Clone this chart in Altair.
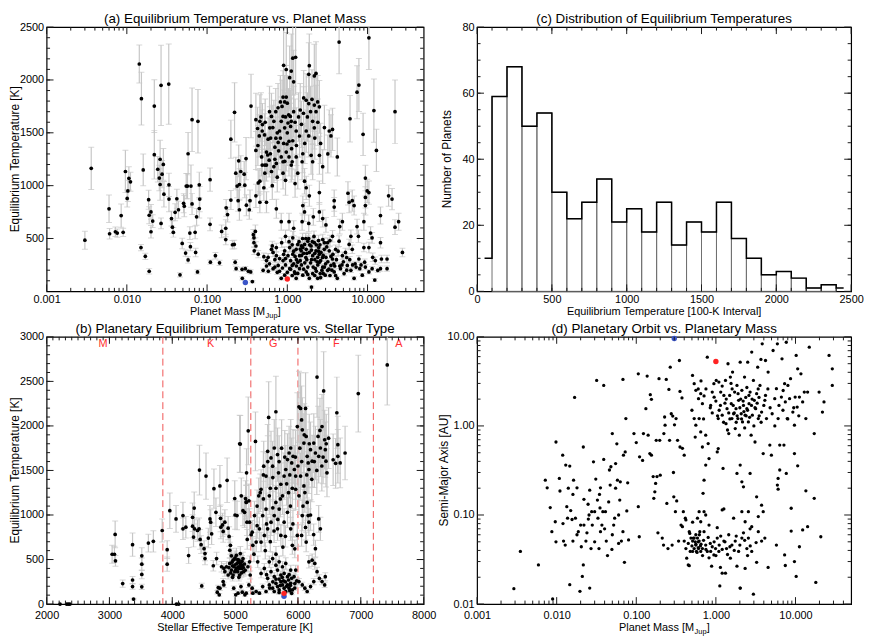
import altair as alt
import pandas as pd

FONT = "Liberation Sans"
EB = "#c6c6c6"
TICK = "#1a1a1a"
WL, WR = 381, 378
HT, HB = 267, 270

# ---------------- panel (a): (planet mass [M_Jup], Teq [K], error [K]) ----------------
A_LOWMASS = [
    (0.0030, 484, 85), (0.0036, 1164, 200), (0.0060, 781, 130), (0.0061, 545, 50), (0.0072, 564, 45),
    (0.0076, 551, 40), (0.0085, 717, 110), (0.0090, 558, 40), (0.0096, 1134, 200), (0.0101, 879, 80),
    (0.0103, 950, 100), (0.0106, 1069, 110), (0.0111, 1036, 90), (0.0143, 2151, 180), (0.0152, 1823, 250),
    (0.015, 414, 30), (0.016, 1149, 150), (0.017, 331, 30), (0.0187, 867, 90), (0.019, 720, 80),
    (0.020, 751, 70), (0.020, 564, 60), (0.019, 190, 25), (0.021, 665, 60), (0.022, 1753, 250),
    (0.022, 1293, 230), (0.0243, 1155, 120), (0.0254, 1072, 120), (0.026, 1011, 150), (0.026, 1250, 180),
    (0.0267, 1949, 380), (0.0267, 643, 50), (0.0275, 1109, 130), (0.0285, 1201, 150), (0.029, 919, 120),
    (0.0333, 1961, 380), (0.0335, 1008, 110), (0.0335, 873, 120), (0.036, 689, 70), (0.037, 607, 60),
    (0.038, 558, 45), (0.040, 748, 80), (0.042, 876, 90), (0.044, 772, 80), (0.046, 156, 20),
    (0.049, 453, 50), (0.051, 833, 90), (0.052, 806, 100), (0.054, 362, 30), (0.055, 996, 120),
    (0.057, 996, 120), (0.058, 1302, 200), (0.058, 297, 30), (0.061, 551, 60), (0.062, 423, 40),
    (0.063, 996, 200), (0.065, 827, 100), (0.065, 1624, 300), (0.071, 558, 60), (0.072, 368, 40),
    (0.074, 705, 80), (0.076, 184, 20), (0.077, 1609, 300), (0.080, 784, 90), (0.080, 1008, 120),
    (0.081, 873, 120),
]
A_SUBJOV = [
    (0.109, 1057, 110), (0.109, 634, 60), (0.11, 276, 20), (0.127, 337, 30), (0.143, 270, 25),
    (0.152, 567, 60), (0.171, 597, 80), (0.173, 790, 80), (0.18, 726, 70), (0.171, 490, 50),
    (0.198, 1440, 180), (0.198, 864, 90), (0.207, 441, 40), (0.218, 444, 40), (0.22, 1694, 280),
    (0.224, 276, 25), (0.23, 214, 20), (0.228, 1118, 150), (0.237, 996, 110), (0.244, 858, 100),
    (0.248, 1235, 150), (0.253, 1011, 150), (0.253, 772, 100), (0.263, 1134, 150), (0.273, 208, 20),
    (0.275, 123, 15), (0.29, 1109, 120), (0.295, 1005, 120), (0.30, 214, 20), (0.306, 1256, 200),
    (0.309, 815, 100), (0.327, 190, 20), (0.336, 772, 90), (0.353, 1753, 300), (0.35, 184, 20),
    (0.367, 92, 10), (0.343, 858, 100), (0.40, 567, 60), (0.384, 506, 50), (0.406, 429, 40),
    (0.377, 536, 50), (0.384, 460, 40), (0.387, 383, 35),
]
A_HOT = [
    (0.406, 1624, 250), (0.455, 1609, 250), (0.426, 1541, 200), (0.49, 1578, 200), (0.487, 1517, 200),
    (0.447, 1471, 200), (0.406, 1333, 180), (0.478, 1272, 180), (0.525, 1195, 150), (0.55, 1318, 180),
    (0.577, 1440, 200), (0.605, 1547, 200), (0.635, 1655, 220), (0.68, 1609, 200), (0.718, 1700, 220),
    (0.767, 1737, 230), (0.82, 1792, 250), (0.885, 1838, 250), (0.927, 1792, 250), (0.97, 1838, 300),
    (0.90, 2139, 350), (0.97, 2099, 350), (1.07, 2022, 300), (1.12, 2084, 350), (1.2, 1982, 300),
    (1.17, 2206, 350), (1.27, 2215, 350), (1.04, 1670, 250), (1.09, 1655, 250), (1.12, 1609, 220),
    (1.02, 1593, 220), (0.885, 1655, 250), (0.84, 1609, 230), (0.927, 1547, 200), (0.80, 1517, 200),
    (0.72, 1449, 200), (0.77, 1409, 200), (0.70, 1364, 180), (0.616, 1302, 180), (0.594, 1241, 160),
    (0.55, 1195, 150), (0.525, 1118, 150), (0.487, 1195, 150), (0.635, 1134, 150), (0.68, 1180, 150),
    (0.73, 1210, 160), (0.84, 1272, 170), (0.885, 1226, 170), (0.885, 1118, 150), (0.97, 1318, 180),
    (1.05, 1272, 180), (1.15, 1226, 170), (1.12, 1195, 160), (0.99, 1394, 200), (1.17, 1425, 200),
    (1.29, 1517, 220), (1.45, 1716, 250), (1.59, 1685, 250), (1.72, 1808, 250), (1.85, 1777, 250),
    (2.03, 1817, 280), (2.17, 1762, 250), (2.39, 1792, 250), (2.51, 1746, 250), (2.28, 1700, 250),
    (2.07, 1609, 220), (2.17, 1547, 200), (1.85, 2053, 300), (2.28, 2062, 300), (2.17, 2038, 300),
    (1.88, 2135, 300), (1.72, 1517, 200), (1.85, 1471, 200), (1.56, 1302, 180), (1.29, 1272, 180),
    (1.35, 1118, 150), (1.53, 1226, 170), (1.98, 1287, 180), (2.07, 1226, 170), (2.51, 1287, 180),
    (2.76, 1180, 160), (3.33, 1517, 200), (3.66, 1532, 200), (3.5, 1471, 200), (4.42, 2359, 300),
    (7.8, 1952, 250), (7.4, 1884, 250), (10.4, 2399, 300), (8.8, 1486, 200), (6.05, 1633, 220),
    (4.2, 1272, 180), (12.0, 1710, 300), (12.9, 1333, 200), (22.0, 1700, 300),
]
A_HOT_CORE = [
    (0.43, 1380, 190), (0.47, 1650, 230), (0.52, 1480, 200), (0.53, 1600, 220), (0.57, 1290, 180),
    (0.6, 1700, 240), (0.62, 1450, 200), (0.66, 1550, 210), (0.7, 1250, 170), (0.75, 1500, 210),
    (0.78, 1330, 180), (0.82, 1450, 200), (0.86, 1750, 250), (0.9, 1400, 190), (0.93, 1230, 170),
    (0.95, 1650, 230), (1.0, 1500, 210), (1.0, 1780, 260), (1.05, 1420, 200), (1.1, 1560, 220),
    (1.13, 1350, 190), (1.2, 1700, 240), (1.25, 1600, 220), (1.3, 1380, 190), (1.38, 1650, 230),
    (1.42, 1470, 200), (1.5, 1580, 220), (1.6, 1830, 260), (1.65, 1400, 190), (1.78, 1650, 230),
    (1.95, 1700, 240), (2.2, 1450, 200), (2.4, 1600, 220), (2.6, 1400, 190), (2.9, 1550, 210),
    (3.2, 1300, 180), (0.65, 1000, 130), (0.75, 1080, 140), (0.95, 1050, 140), (1.25, 1020, 130),
]
A_WARM = [
    (0.455, 1042, 120), (0.434, 1026, 120), (0.51, 980, 120), (0.406, 904, 110), (0.455, 843, 100),
    (0.55, 843, 100), (0.73, 781, 90), (0.84, 659, 80), (0.95, 521, 60), (1.05, 659, 80),
    (1.2, 597, 70), (1.17, 506, 60), (1.35, 444, 50), (1.53, 659, 80), (1.64, 751, 90),
    (1.56, 812, 90), (1.85, 643, 80), (2.11, 705, 80), (2.51, 751, 90), (2.76, 689, 80),
    (3.03, 628, 70), (3.84, 858, 100), (3.84, 797, 90), (4.5, 613, 70), (4.86, 659, 80),
    (5.9, 843, 100), (6.45, 858, 100), (6.8, 812, 90), (6.2, 521, 60), (5.9, 444, 50),
    (7.4, 613, 70), (7.7, 521, 60), (9.0, 659, 80), (9.4, 812, 90), (10.4, 935, 110),
    (10.9, 551, 60), (10.4, 414, 50), (11.6, 322, 40), (12.5, 291, 35), (2.51, 935, 110),
    (1.64, 1042, 120), (1.72, 980, 110), (1.88, 904, 100), (5.7, 928, 110), (14.5, 717, 80),
    (14.5, 460, 50), (14.9, 306, 35), (14.5, 214, 25), (12.3, 107, 15), (17.5, 306, 35),
    (17.5, 214, 25), (18.3, 904, 100), (20.2, 873, 100), (22.0, 607, 70), (24.4, 659, 80),
    (27.2, 368, 40), (9.4, 1072, 120), (9.9, 950, 110), (9.4, 889, 100),
]
A_COOL = [
    (0.55, 291, 30), (0.50, 199, 20), (0.58, 190, 20), (0.665, 214, 20), (0.77, 245, 25),
    (0.80, 190, 20), (0.87, 221, 20), (0.927, 153, 15), (0.84, 123, 15), (1.07, 214, 20),
    (1.15, 245, 25), (1.23, 184, 20), (1.29, 123, 15), (1.35, 276, 30), (1.42, 337, 35),
    (1.49, 383, 40), (1.56, 414, 40), (1.64, 444, 45), (1.72, 398, 40), (1.8, 475, 50),
    (1.88, 368, 40), (1.98, 429, 45), (2.07, 337, 35), (2.17, 460, 45), (2.28, 383, 40),
    (2.39, 322, 35), (2.46, 414, 40), (2.63, 368, 40), (2.76, 490, 50), (2.89, 398, 40),
    (3.03, 322, 35), (3.18, 460, 45), (3.33, 383, 40), (3.66, 521, 55), (4.0, 398, 40),
    (4.42, 475, 50), (4.86, 337, 35), (1.42, 214, 20), (1.56, 153, 15), (1.72, 184, 20),
    (1.88, 123, 15), (2.07, 168, 20), (2.24, 214, 20), (2.39, 123, 15), (2.57, 168, 20),
    (2.76, 230, 25), (2.97, 153, 15), (3.18, 199, 20), (3.5, 245, 25), (3.84, 184, 20),
    (4.2, 123, 15), (4.6, 214, 20), (5.1, 168, 20), (5.6, 245, 25), (6.2, 199, 20),
    (6.8, 123, 15), (7.2, 230, 25), (8.0, 214, 20), (8.6, 153, 15), (9.4, 230, 25),
    (10.4, 184, 20), (11.4, 214, 20), (13.4, 199, 20), (1.07, 414, 40), (1.17, 352, 35),
    (1.29, 398, 40), (1.02, 337, 35), (0.927, 383, 40), (0.885, 291, 30), (0.73, 337, 35),
    (0.635, 398, 40), (2.0, 40, 10), (2.51, 276, 30), (3.66, 306, 30), (5.3, 368, 40),
    (6.45, 398, 40), (7.8, 306, 30), (9.0, 414, 40), (11.4, 506, 50), (9.2, 276, 30),
    (0.434, 352, 35), (0.51, 328, 35), (0.577, 322, 35), (0.665, 368, 40), (0.73, 414, 40),
    (0.6, 260, 25), (0.7, 300, 30), (0.75, 180, 20), (0.95, 250, 25), (1.1, 290, 30),
    (1.25, 330, 35), (1.3, 240, 25), (1.4, 470, 45), (1.45, 290, 30), (1.5, 430, 40),
    (1.6, 360, 35), (1.65, 270, 30), (1.7, 500, 50), (1.75, 300, 30), (1.8, 230, 25),
    (1.9, 440, 45), (1.95, 270, 30), (2.0, 390, 40), (2.1, 230, 25), (2.2, 300, 30),
    (2.3, 440, 45), (2.4, 250, 25), (2.5, 350, 35), (2.6, 290, 30), (2.7, 200, 20),
    (2.8, 340, 35), (3.0, 260, 25), (3.1, 420, 45), (3.3, 210, 20), (3.5, 330, 35),
    (3.8, 260, 25), (4.1, 300, 30), (4.5, 240, 25), (5.0, 280, 30), (5.5, 200, 20),
    (6.0, 300, 30), (7.0, 260, 25), (8.3, 250, 25), (1.15, 150, 15), (1.35, 170, 15),
    (1.6, 210, 20), (2.2, 150, 15), (2.6, 130, 15), (3.4, 150, 15), (1.0, 180, 20),
    (0.8, 310, 30), (1.2, 380, 40), (1.55, 500, 50), (2.15, 520, 50), (2.45, 480, 50),
]
A_COOL_CORE = [
    (0.65, 430, 45), (0.85, 460, 45), (0.9, 350, 35), (1.05, 470, 50), (1.15, 440, 45),
    (1.3, 300, 30), (1.45, 400, 40), (1.5, 340, 35), (1.7, 320, 35), (1.85, 500, 50),
    (2.0, 300, 30), (2.05, 470, 45), (2.2, 360, 35), (2.35, 280, 30), (2.55, 440, 45),
    (2.75, 320, 35), (2.9, 460, 45), (3.2, 280, 30), (3.4, 480, 50), (3.7, 350, 35),
    (4.3, 380, 40), (4.8, 250, 25), (5.5, 320, 35), (6.5, 250, 25), (1.1, 210, 20),
    (1.25, 170, 15), (1.5, 250, 25), (1.8, 160, 15), (2.3, 190, 20), (2.8, 170, 15),
    (3.6, 200, 20), (4.0, 150, 15), (0.95, 310, 30), (0.7, 230, 25), (0.55, 240, 25),
    (2.9, 230, 25), (3.9, 240, 25), (1.2, 260, 25), (1.75, 360, 35), (2.45, 380, 40),
]
A_SOLAR = [(1.0, 116, "#ff2222"), (0.3, 83, "#3b55c8")]   # Jupiter, Saturn

A_XTICKS = [0.001, 0.01, 0.1, 1, 10]
A_XMINOR = [0.002, 0.003, 0.004, 0.005, 0.006, 0.007, 0.008, 0.009,
            0.02, 0.03, 0.04, 0.05, 0.06, 0.07, 0.08, 0.09,
            0.2, 0.3, 0.4, 0.5, 0.6, 0.7, 0.8, 0.9,
            2, 3, 4, 5, 6, 7, 8, 9, 20, 30, 40]
A_YTICKS = [500, 1000, 1500, 2000, 2500]
A_YMINOR = list(range(100, 2500, 100))

# ---------------- panel (b): (stellar Teff [K], planet Teq [K], error [K]) ----------------
B_COOL = [
    (2214, 0, 0), (2319, 0, 0), (2346, 0, 0), (2371, 0, 0), (3043, 559, 100), (3080, 559, 90),
    (3096, 485, 60), (3091, 782, 150), (3211, 230, 40), (3368, 667, 130), (3368, 270, 40),
    (3368, 196, 30), (3384, 56, 10), (3515, 541, 90), (3515, 448, 70), (3515, 333, 50),
    (3515, 193, 30), (3620, 685, 100), (3699, 704, 120), (3840, 826, 130), (3919, 611, 100),
    (3919, 448, 80), (3961, 1048, 200), (4060, 956, 150), (4066, 0, 0), (4102, 0, 0),
    (4170, 993, 150), (4170, 845, 120), (4216, 863, 120), (4260, 544, 90), (4323, 974, 160),
    (4349, 1078, 180), (4323, 874, 130), (4354, 845, 120), (4338, 752, 110), (4401, 826, 120),
    (4427, 845, 120), (4433, 1504, 280), (4443, 726, 110), (4459, 667, 100), (4469, 204, 30),
]
B_K = [
    (4506, 622, 90), (4521, 567, 80), (4521, 511, 70), (4537, 1437, 260), (4574, 741, 110),
    (4600, 956, 150), (4611, 919, 140), (4626, 789, 120), (4653, 430, 60), (4663, 1296, 220),
    (4695, 1030, 160), (4705, 511, 70), (4716, 133, 20), (4731, 185, 25), (4747, 104, 15),
    (4758, 1326, 230), (4768, 963, 150), (4773, 863, 130), (4800, 889, 130), (4810, 815, 120),
    (4821, 400, 55), (4821, 215, 30), (4837, 919, 140), (4873, 1389, 250), (4889, 852, 130),
    (4905, 759, 110), (4915, 604, 90), (4926, 659, 100), (4941, 541, 80), (4957, 430, 60),
    (4968, 326, 45), (4978, 178, 25), (4989, 504, 70), (4994, 1185, 200), (4999, 1000, 160),
    (5010, 104, 15), (5020, 400, 55), (5030, 456, 60), (5041, 363, 50), (5051, 419, 60),
    (5062, 493, 70), (5072, 1800, 320), (5072, 326, 45), (5083, 456, 60), (5093, 196, 30),
    (5104, 400, 55), (5114, 437, 60), (5125, 511, 70), (5135, 363, 50), (5151, 1030, 170),
    (5156, 104, 15), (5167, 1185, 200), (5177, 1148, 190), (5182, 1474, 270), (5188, 919, 150),
    (5193, 726, 110), (5203, 419, 60), (5209, 1945, 380), (5219, 1159, 190), (5230, 474, 65),
    (5240, 326, 45), (5256, 778, 120), (5272, 178, 25), (5219, 215, 30), (5177, 122, 15),
    (5114, 133, 20), (5046, 122, 15), (4968, 493, 70), (4915, 456, 65), (4863, 419, 60),
    (4837, 363, 50), (4784, 419, 60), (5020, 548, 80), (5083, 567, 80), (4994, 363, 50),
    (4941, 382, 55), (4889, 326, 45), (4810, 252, 35), (4758, 178, 25), (5083, 1796, 320),
    (5177, 1141, 190), (5125, 1048, 170), (5098, 1215, 200), (5030, 993, 160), (5230, 919, 150),
    (4950, 470, 65), (4980, 420, 60), (5000, 440, 60), (5010, 380, 55), (5050, 470, 65),
    (5070, 400, 55), (5090, 430, 60), (5110, 480, 65), (5130, 410, 60), (5150, 450, 65),
    (4930, 350, 50), (4960, 300, 40), (5040, 500, 70), (5100, 350, 50), (5160, 380, 55),
    (4900, 410, 60), (5060, 300, 40), (5000, 520, 75),
]
B_GF_HOT = [
    (5324, 1826, 330), (5534, 2096, 400), (5649, 2159, 400), (5455, 1548, 280), (5376, 1215, 200),
    (5413, 1289, 220), (5492, 1437, 260), (5518, 1715, 300), (5571, 1641, 300), (5597, 1548, 280),
    (5623, 1752, 320), (5675, 1678, 300), (5691, 1474, 270), (5728, 1345, 240), (5754, 1215, 210),
    (5780, 1437, 260), (5806, 1511, 270), (5833, 1622, 290), (5859, 1696, 300), (5885, 1752, 320),
    (5901, 1585, 280), (5922, 1659, 300), (5943, 1511, 270), (5964, 1437, 260), (5990, 1993, 380),
    (6016, 2215, 400), (6042, 2196, 400), (6058, 2067, 380), (6069, 1956, 360), (6095, 1807, 330),
    (6121, 2196, 400), (6131, 1882, 340), (6147, 1659, 300), (6163, 1585, 280), (6174, 1511, 270),
    (6200, 1733, 310), (6226, 1604, 290), (6252, 1807, 330), (6278, 1696, 300), (6304, 2548, 450),
    (6320, 1882, 340), (6330, 1659, 300), (6357, 1752, 320), (6383, 1993, 360), (6409, 2393, 440),
    (6425, 1845, 330), (6435, 1733, 310), (6446, 1604, 290), (6462, 1474, 270), (6488, 1863, 340),
    (6619, 2148, 400), (6635, 1789, 320), (6635, 1659, 300), (6672, 1585, 280), (6750, 1696, 300),
    (6960, 2363, 430), (7421, 2685, 450), (5964, 1289, 230), (6016, 1215, 210), (6042, 1437, 260),
    (6095, 1326, 240), (6110, 1252, 220), (6147, 1141, 200), (6163, 993, 170), (6174, 919, 150),
    (6069, 993, 170), (6058, 770, 120), (5990, 770, 120), (6131, 696, 110), (6357, 845, 130),
    (6330, 956, 150), (6278, 622, 95),
    (5450, 1450, 260), (5520, 1600, 290), (5600, 1420, 250), (5650, 1300, 230), (5700, 1600, 290),
    (5740, 1750, 320), (5790, 1650, 300), (5820, 1350, 240), (5870, 1450, 260), (5910, 1300, 230),
    (5960, 1650, 300), (6000, 1550, 280), (6030, 1750, 320), (6060, 1600, 290), (6100, 1900, 350),
    (6140, 1450, 260), (6180, 1800, 330), (6220, 1400, 250), (6260, 1600, 290), (6300, 1500, 270),
    (6350, 1950, 360), (6400, 1650, 300), (6450, 1800, 330), (6380, 1550, 280), (6560, 1620, 290),
    (6600, 1580, 280), (6080, 1100, 190), (6120, 860, 140), (6200, 1000, 170), (6250, 780, 120),
]
B_GF_COOL = [
    (6174, 474, 70), (6226, 493, 70), (6268, 456, 65), (6304, 363, 50), (6341, 289, 40),
    (6383, 252, 35), (6425, 215, 30), (6435, 307, 45), (5938, 307, 45), (5964, 382, 55),
    (6016, 252, 35), (6069, 215, 30), (6110, 178, 25), (6147, 141, 20), (6200, 196, 30),
    (6252, 252, 35), (5859, 178, 25), (5833, 215, 30), (5885, 233, 35), (5911, 159, 25),
    (5806, 141, 20), (5780, 178, 25), (5754, 215, 30), (5728, 252, 35), (5701, 159, 25),
    (5675, 196, 30), (5649, 233, 35), (5623, 141, 20), (5597, 178, 25), (5544, 215, 30),
    (5492, 141, 20), (5439, 196, 30), (5387, 122, 15), (5335, 141, 20), (5282, 122, 15),
    (5833, 307, 45), (5780, 344, 50), (5728, 326, 45), (5675, 382, 55), (5623, 307, 45),
    (5571, 363, 50), (5518, 289, 40), (5465, 400, 55), (5413, 344, 50), (5360, 474, 65),
    (5544, 474, 65), (5597, 511, 70), (5649, 437, 60), (5701, 474, 65), (5754, 419, 60),
    (5806, 456, 65), (5885, 382, 55), (5413, 696, 110), (5465, 770, 120), (5518, 845, 130),
    (5571, 919, 150), (5623, 993, 160), (5675, 845, 130), (5728, 770, 120), (5780, 919, 150),
    (5833, 1030, 170), (5885, 845, 130), (5911, 659, 100), (5649, 1141, 190), (5701, 1067, 180),
    (5544, 1215, 210), (5492, 1067, 180), (5439, 993, 160), (5387, 845, 130), (5335, 696, 110),
    (5308, 993, 160), (5272, 807, 130), (5282, 659, 100), (5700, 280, 40), (5750, 300, 40),
    (5800, 250, 35), (5850, 270, 40), (5900, 290, 40), (5950, 230, 35), (5820, 200, 30),
    (5870, 150, 20), (5720, 210, 30), (5770, 260, 35), (5650, 280, 40), (5900, 120, 15),
    (5950, 180, 25), (5980, 260, 35), (5860, 330, 45), (5880, 210, 30), (5700, 130, 20),
    (5600, 250, 35), (5550, 180, 25), (5500, 330, 45), (5350, 1100, 180), (5400, 1250, 210),
    (5450, 1180, 200), (5500, 900, 150), (5560, 1300, 230), (5600, 1080, 180), (5620, 820, 130),
    (5680, 950, 160), (5720, 1180, 200), (5760, 640, 100), (5800, 760, 120), (5850, 1250, 220),
    (5880, 1100, 190), (5920, 900, 150), (5950, 620, 100), (5300, 560, 85), (5350, 880, 140),
    (5480, 600, 95), (5560, 700, 110), (5650, 560, 85),
]
B_SOLAR = [(5778, 88, "#3b55c8"), (5778, 120, "#ff2222")]
B_CLASS_BOUNDS = [3850, 5250, 6000, 7200]
B_CLASS_NAMES = ["M", "K", "G", "F", "A"]
B_CLASS_POS = [2900, 4610, 5605, 6610, 7605]
B_XTICKS = [2000, 3000, 4000, 5000, 6000, 7000, 8000]
B_XMINOR = list(range(2100, 8000, 100))
B_YTICKS = [0, 500, 1000, 1500, 2000, 2500, 3000]
B_YMINOR = list(range(100, 3000, 100))

# ---------------- panel (c): histogram of Teq in 100-K bins ----------------
HIST_LEFT = [100, 200, 300, 400, 500, 600, 700, 800, 900, 1000, 1100, 1200,
             1300, 1400, 1500, 1600, 1700, 1800, 1900, 2000, 2100, 2200, 2300]
HIST_COUNT = [59, 68, 50, 54, 30, 22, 27, 34, 21, 25, 18, 27,
              14, 21, 18, 27, 16, 10, 5, 6, 4, 1, 2]
HIST_FIRST = (50, 10)     # half bin drawn at the left end (0-100 K)
HIST_LAST = (2400, 1)     # half bin drawn at the right end (2400-2500 K)
C_XTICKS = [0, 500, 1000, 1500, 2000, 2500]
C_XMINOR = list(range(100, 2500, 100))
C_YTICKS = [0, 20, 40, 60, 80]
C_YMINOR = list(range(5, 80, 5))

# ---------------- panel (d): (planet mass [M_Jup], semi-major axis [AU]) ----------------
D_SMALL = [
    (0.0029, 0.0149), (0.0035, 0.039), (0.0059, 0.0275), (0.0072, 0.246), (0.0076, 0.202),
    (0.0083, 0.121), (0.0087, 0.065), (0.0089, 0.0114), (0.0096, 0.084), (0.0098, 0.66),
    (0.0098, 0.050), (0.0108, 0.257), (0.011, 0.186), (0.0119, 0.47), (0.0122, 0.051),
    (0.0128, 0.046), (0.013, 0.363), (0.0134, 0.124), (0.0137, 0.092), (0.0146, 0.354),
    (0.015, 0.112), (0.0146, 0.0165), (0.0156, 0.089), (0.016, 0.17), (0.016, 0.051),
    (0.0163, 0.246), (0.0168, 2.09), (0.0172, 0.092), (0.018, 0.202), (0.0187, 0.065),
    (0.0196, 0.0139), (0.020, 0.077), (0.0204, 0.044), (0.021, 0.0204), (0.0216, 0.58),
    (0.0216, 0.0275), (0.022, 0.077), (0.0233, 0.051), (0.024, 0.063), (0.0248, 0.132),
    (0.0255, 0.100), (0.026, 0.19), (0.026, 0.0151), (0.027, 0.042), (0.0275, 0.109),
    (0.028, 0.077), (0.029, 0.395), (0.030, 0.109), (0.031, 0.253), (0.0318, 3.24),
    (0.0325, 0.147), (0.033, 0.092), (0.034, 0.042), (0.0345, 0.17), (0.0355, 0.202),
    (0.0355, 0.065), (0.037, 0.077), (0.038, 0.109), (0.039, 0.42), (0.039, 2.85),
    (0.041, 0.109), (0.042, 0.051), (0.0435, 0.035), (0.046, 0.32), (0.047, 0.217),
    (0.048, 0.348), (0.0494, 0.041), (0.050, 0.82), (0.052, 0.077), (0.0535, 0.092),
    (0.055, 0.378), (0.057, 0.63), (0.058, 0.246), (0.060, 0.048), (0.062, 0.147),
    (0.063, 0.236), (0.065, 0.051), (0.068, 3.33), (0.068, 0.065), (0.069, 0.47),
    (0.071, 0.0294), (0.0726, 0.51), (0.076, 0.111), (0.078, 0.23), (0.08, 0.0525),
    (0.074, 1.21), (0.012, 0.08), (0.014, 0.2), (0.018, 0.06), (0.022, 0.15),
    (0.025, 0.09), (0.03, 0.05), (0.035, 0.12), (0.04, 0.07), (0.045, 0.14),
    (0.05, 0.06), (0.055, 0.2), (0.06, 0.1),
]
D_MID = [
    (0.0935, 0.82), (0.10, 0.65), (0.106, 3.85), (0.109, 0.057), (0.106, 0.124),
    (0.11, 0.45), (0.12, 0.41), (0.123, 0.82), (0.132, 1.56), (0.137, 3.63),
    (0.141, 0.787), (0.148, 0.49), (0.15, 2.24), (0.155, 1.99), (0.155, 0.47),
    (0.163, 0.27), (0.166, 0.154), (0.171, 0.182), (0.175, 0.226), (0.178, 0.69),
    (0.182, 0.27), (0.187, 0.063), (0.193, 3.39), (0.197, 0.69), (0.2, 0.28),
    (0.212, 0.055), (0.22, 0.046), (0.222, 0.82), (0.227, 1.26), (0.23, 1.02),
    (0.238, 3.33), (0.242, 0.135), (0.25, 0.042), (0.257, 2.57), (0.262, 0.69),
    (0.267, 4.57), (0.275, 1.37), (0.282, 0.046), (0.287, 1.29), (0.293, 0.30),
    (0.296, 0.16), (0.302, 1.03), (0.31, 0.109), (0.316, 1.21), (0.322, 0.144),
    (0.33, 0.69), (0.34, 0.051), (0.348, 5.43), (0.354, 2.44), (0.354, 0.58),
    (0.365, 0.077), (0.375, 2.06), (0.38, 0.56), (0.39, 0.109), (0.4, 0.47),
    (0.42, 0.088), (0.38, 0.074), (0.677, 0.58), (0.745, 0.363), (0.71, 0.246),
    (0.69, 0.175), (0.71, 0.109), (0.82, 0.43), (1.07, 0.557), (1.23, 0.333),
    (1.26, 0.117), (1.04, 0.51), (1.84, 0.293), (2.02, 0.363), (2.22, 0.207),
    (2.69, 0.293), (2.12, 0.236), (3.25, 0.16), (3.41, 0.096), (3.75, 0.129),
    (2.33, 0.084), (2.56, 0.109), (2.82, 0.074), (0.616, 0.109), (0.645, 0.084),
    (0.587, 0.092), (2.12, 0.109), (1.2, 0.114), (1.04, 0.072), (0.745, 0.1),
    (0.82, 0.077), (3.93, 0.109), (6.05, 0.257), (6.05, 0.195), (6.34, 0.32),
    (7.66, 0.293), (8.83, 0.119), (8.83, 0.066), (9.7, 0.49), (10.65, 0.357),
    (11.2, 0.044), (12.3, 0.068), (13.5, 0.187), (14.2, 0.074), (17.2, 0.154),
    (18.0, 0.0175), (20.8, 0.057), (9.7, 0.03), (10.2, 0.0204), (7.3, 0.0356),
    (7.45, 0.0271), (5.76, 0.046), (5.92, 0.217), (3.93, 0.49), (4.98, 0.47),
]
D_HOTJUP = [
    (0.4, 0.051), (0.413, 0.092), (0.42, 0.042), (0.43, 0.0327), (0.45, 0.0275),
    (0.463, 0.065), (0.486, 0.055), (0.51, 0.051), (0.534, 0.042), (0.56, 0.046),
    (0.587, 0.055), (0.616, 0.051), (0.645, 0.039), (0.677, 0.042), (0.51, 0.039),
    (0.534, 0.055), (0.57, 0.039), (0.605, 0.042), (0.56, 0.06), (0.628, 0.065),
    (0.476, 0.039), (0.463, 0.027), (0.51, 0.083), (0.71, 0.065), (0.745, 0.046),
    (0.78, 0.039), (0.82, 0.033), (0.86, 0.039), (0.884, 0.0266), (0.944, 0.0356),
    (0.99, 0.042), (1.04, 0.055), (1.09, 0.039), (1.14, 0.0258), (1.2, 0.0222),
    (1.32, 0.0222), (1.26, 0.051), (1.36, 0.042), (1.45, 0.06), (1.52, 0.0327),
    (1.59, 0.046), (1.67, 0.092), (1.75, 0.051), (1.84, 0.0266), (1.93, 0.039),
    (2.02, 0.0151), (2.12, 0.055), (2.22, 0.063), (2.33, 0.0251), (2.45, 0.042),
    (2.56, 0.055), (2.69, 0.07), (2.82, 0.039), (2.96, 0.0129), (3.25, 0.0294),
    (3.41, 0.065), (3.75, 0.051), (4.12, 0.055), (4.53, 0.0258), (0.45, 0.048),
    (0.5, 0.045), (0.55, 0.05), (0.6, 0.043), (0.65, 0.047), (0.7, 0.052),
    (0.75, 0.041), (0.85, 0.048), (0.9, 0.044), (0.95, 0.05), (1.1, 0.046),
    (1.2, 0.041), (1.3, 0.05), (1.5, 0.044), (1.7, 0.04), (2.0, 0.046),
    (2.3, 0.052), (2.7, 0.045), (3.2, 0.049), (0.52, 0.055), (0.58, 0.038),
    (0.62, 0.06), (0.68, 0.035), (0.8, 0.056), (1.0, 0.035), (1.15, 0.058),
    (1.4, 0.036), (1.8, 0.058), (2.5, 0.035), (0.47, 0.062), (0.56, 0.047),
    (0.6, 0.05), (0.64, 0.045), (1.12, 0.016), (2.02, 0.0151),
]
D_OUTER = [
    (0.509, 3.69), (0.534, 2.98), (0.56, 2.51), (0.605, 2.02), (0.645, 2.3),
    (0.677, 1.78), (0.71, 2.17), (0.616, 1.21), (0.534, 1.21), (0.56, 1.02),
    (0.645, 0.857), (0.745, 0.787), (0.8, 0.634), (0.86, 1.7), (0.9, 2.4),
    (0.944, 2.98), (0.78, 5.92), (1.01, 3.24), (1.07, 1.21), (1.09, 3.11),
    (1.14, 1.7), (1.2, 1.32), (1.26, 2.2), (1.32, 3.24), (1.34, 1.06),
    (1.38, 1.56), (1.42, 4.99), (1.45, 0.82), (1.49, 2.2), (1.52, 3.54),
    (1.56, 1.78), (1.59, 1.21), (1.62, 4.02), (1.67, 1.37), (1.72, 2.4),
    (1.75, 0.933), (1.79, 1.56), (1.84, 2.85), (1.89, 1.21), (1.93, 1.94),
    (1.97, 0.787), (2.02, 5.2), (2.08, 1.37), (2.12, 2.51), (2.16, 1.11),
    (2.22, 1.7), (2.29, 3.54), (2.33, 1.32), (2.37, 2.09), (2.45, 1.56),
    (2.51, 5.2), (2.56, 1.11), (2.61, 1.78), (2.69, 2.4), (2.77, 0.787),
    (2.82, 6.74), (2.87, 1.32), (2.96, 3.24), (3.04, 1.94), (3.1, 0.66),
    (3.16, 1.56), (3.25, 2.3), (3.35, 4.57), (3.41, 1.21), (3.48, 2.09),
    (3.58, 2.85), (3.68, 5.58), (3.75, 1.43), (3.82, 8.35), (4.12, 1.94),
    (4.2, 5.43), (4.32, 1.21), (4.53, 4.02), (4.76, 0.61), (5.09, 1.37),
    (5.23, 7.03), (5.49, 2.02), (5.76, 2.62), (5.92, 8.35), (6.05, 1.21),
    (6.34, 0.61), (6.65, 2.11), (6.77, 5.67), (6.96, 1.5), (7.16, 0.61),
    (7.3, 2.98), (7.45, 1.86), (7.66, 8.7), (7.88, 1.21), (8.03, 2.85),
    (8.43, 2.02), (8.67, 3.39), (9.26, 1.43), (9.7, 1.02), (9.9, 2.11),
    (10.2, 6.18), (10.5, 1.63), (10.65, 4.38), (11.2, 2.11), (11.7, 3.85),
    (12.3, 1.86), (12.9, 2.4), (13.5, 1.21), (14.2, 2.4), (14.9, 7.66),
    (17.2, 0.82), (19.8, 2.4), (21.8, 1.43), (22.8, 1.86), (26.4, 6.18),
    (29.0, 4.38), (29.0, 2.85), (1.1, 1.5), (1.3, 1.8), (1.5, 1.2),
    (1.6, 2.6), (1.8, 1.1), (2.0, 1.6), (2.2, 1.9), (2.4, 1.3),
    (2.6, 2.2), (2.8, 1.7), (3.0, 1.0), (3.3, 1.8), (1.2, 2.8),
    (1.4, 0.9), (1.7, 1.4), (1.9, 2.3), (2.1, 1.2), (2.3, 0.95),
    (2.5, 1.5), (3.5, 1.3), (4.0, 1.7), (4.5, 2.6), (1.0, 1.9),
    (0.9, 1.4), (0.7, 1.2), (0.6, 2.6), (0.75, 2.6), (0.85, 1.6),
    (0.95, 2.1), (1.05, 1.3), (1.15, 2.4), (1.25, 1.1), (1.35, 2.0),
    (1.45, 1.4), (1.55, 3.0), (1.65, 1.7), (1.85, 1.3), (2.05, 2.0),
    (2.25, 1.45), (2.45, 2.7), (2.65, 1.25), (2.85, 2.0), (3.1, 1.6),
    (3.4, 2.6), (3.7, 1.1), (4.2, 2.2), (4.8, 1.6), (5.5, 1.0),
    (6.2, 1.7), (7.0, 2.5), (8.0, 1.2), (9.5, 1.6), (11.0, 1.3),
    (0.5, 1.5), (0.55, 0.75), (0.65, 3.2),
]
D_SOLAR = [(1.0, 5.3, "#ff2222"), (0.3, 9.58, "#3b55c8")]
D_YTICKS = [0.01, 0.1, 1, 10]
D_YMINOR = [0.02, 0.03, 0.04, 0.05, 0.06, 0.07, 0.08, 0.09,
            0.2, 0.3, 0.4, 0.5, 0.6, 0.7, 0.8, 0.9,
            2, 3, 4, 5, 6, 7, 8, 9]


# ---------------- helpers ----------------
def make_axis(vals, fmt, pad=3):
    return alt.Axis(values=vals, format=fmt, ticks=False, domain=False, grid=False, title=None,
                    labelFlush=False, labelOverlap=False, labelPadding=pad, labelFont=FONT,
                    labelFontSize=11, labelColor="black")


def tick_layers(xsc, ysc, xa, ya, xmaj, xmin, ymaj, ymin, W, H, L1=7, L2=3.5):
    out = []
    for vals, L in ((xmaj, L1), (xmin, L2)):
        base = alt.Chart(pd.DataFrame({"v": vals})).mark_rule(color=TICK, strokeWidth=1)
        xx = alt.X("v:Q", scale=xsc, axis=xa)
        out.append(base.encode(x=xx, y=alt.value(H), y2=alt.value(H - L)))
        out.append(base.encode(x=xx, y=alt.value(0), y2=alt.value(L)))
    for vals, L in ((ymaj, L1), (ymin, L2)):
        base = alt.Chart(pd.DataFrame({"v": vals})).mark_rule(color=TICK, strokeWidth=1)
        yy = alt.Y("v:Q", scale=ysc, axis=ya)
        out.append(base.encode(y=yy, x=alt.value(0), x2=alt.value(L)))
        out.append(base.encode(y=yy, x=alt.value(W), x2=alt.value(W - L)))
    return out


def txt(s, x, y, size, angle=0, align="center", baseline="alphabetic", color="black"):
    return alt.Chart(pd.DataFrame({"t": [s]})).mark_text(
        font=FONT, fontSize=size, angle=angle, align=align, baseline=baseline, color=color
    ).encode(text="t:N", x=alt.value(x), y=alt.value(y))


def mass_title(W, H, dy):
    x0 = W / 2 - 45.5
    return [txt("Planet Mass [M", x0, H + dy, 11, align="left"),
            txt("Jup", x0 + 76.3, H + dy + 3, 7.5, align="left"),
            txt("]", x0 + 88.6, H + dy, 11, align="left")]


def err_df(*groups):
    rows = [r for g in groups for r in g]
    df = pd.DataFrame(rows, columns=["x", "y", "e"])
    df["lo"] = df["y"] - df["e"]
    df["hi"] = df["y"] + df["e"]
    return df


def scatter_with_errors(df, xsc, ysc, xa, ya):
    e = df[df["e"] > 0]
    X = alt.X("x:Q", scale=xsc, axis=xa)
    bars = alt.Chart(e).mark_rule(color=EB, strokeWidth=1.2, clip=True).encode(
        x=X, y=alt.Y("lo:Q", scale=ysc, axis=ya), y2="hi:Q")
    cap_lo = alt.Chart(e).mark_tick(orient="horizontal", size=6, thickness=1, color=EB, clip=True).encode(
        x=X, y=alt.Y("lo:Q", scale=ysc, axis=ya))
    cap_hi = alt.Chart(e).mark_tick(orient="horizontal", size=6, thickness=1, color=EB, clip=True).encode(
        x=X, y=alt.Y("hi:Q", scale=ysc, axis=ya))
    pts = alt.Chart(df).mark_circle(size=14, color="black", opacity=1).encode(
        x=X, y=alt.Y("y:Q", scale=ysc, axis=ya))
    return [bars, cap_lo, cap_hi, pts]


def solar(rows, xsc, ysc, xa, ya, size=30):
    df = pd.DataFrame(rows, columns=["x", "y", "c"])
    return alt.Chart(df).mark_circle(size=size, opacity=1).encode(
        x=alt.X("x:Q", scale=xsc, axis=xa), y=alt.Y("y:Q", scale=ysc, axis=ya),
        color=alt.Color("c:N", scale=None))


# ---------------- panel (a) ----------------
AX = alt.Scale(type="log", domain=[0.001, 50], nice=False)
AY = alt.Scale(domain=[0, 2500], nice=False, zero=False)
AXA, AYA = make_axis(A_XTICKS, ".3f", 2), make_axis(A_YTICKS, "d")
dfa = err_df(A_LOWMASS, A_SUBJOV, A_HOT, A_HOT_CORE, A_WARM, A_COOL, A_COOL_CORE)
panel_a = alt.layer(
    *scatter_with_errors(dfa, AX, AY, AXA, AYA),
    solar(A_SOLAR, AX, AY, AXA, AYA),
    *tick_layers(AX, AY, AXA, AYA, A_XTICKS, A_XMINOR, A_YTICKS, A_YMINOR, WL, HT),
    txt("(a) Equilibrium Temperature vs. Planet Mass", WL / 2, -4, 13.5),
    txt("Equilibrium Temperature [K]", -31.5, HT / 2, 12, angle=270, baseline="middle"),
    *mass_title(WL, HT, 24),
).properties(width=WL, height=HT)

# ---------------- panel (c) ----------------
CX = alt.Scale(domain=[0, 2500], nice=False, zero=False)
CY = alt.Scale(domain=[0, 80], nice=False, zero=False)
CXA, CYA = make_axis(C_XTICKS, "d", 2), make_axis(C_YTICKS, "d")
hist_df = pd.DataFrame({"left": HIST_LEFT, "right": [v + 100 for v in HIST_LEFT],
                        "n": HIST_COUNT, "z": [0] * len(HIST_LEFT)})
step_df = pd.DataFrame({"x": [HIST_FIRST[0]] + HIST_LEFT + [HIST_LAST[0], HIST_LAST[0] + 50],
                        "y": [HIST_FIRST[1]] + HIST_COUNT + [HIST_LAST[1], HIST_LAST[1]]})
rects = alt.Chart(hist_df).mark_rect(fill="white", fillOpacity=0, stroke="#707070", strokeWidth=1).encode(
    x=alt.X("left:Q", scale=CX, axis=CXA), x2="right:Q",
    y=alt.Y("n:Q", scale=CY, axis=CYA), y2="z:Q")
steps = alt.Chart(step_df).mark_line(interpolate="step-after", color="black", strokeWidth=1.5).encode(
    x=alt.X("x:Q", scale=CX, axis=CXA), y=alt.Y("y:Q", scale=CY, axis=CYA))
panel_c = alt.layer(
    rects, steps,
    *tick_layers(CX, CY, CXA, CYA, C_XTICKS, C_XMINOR, C_YTICKS, C_YMINOR, WR, HT),
    txt("(c) Distribution of Equilibrium Temperatures", WR / 2, -4, 13.5),
    txt("Number of Planets", -30.5, HT / 2, 12, angle=270, baseline="middle"),
    txt("Equilibrium Temperature [100-K Interval]", WR / 2, HT + 24, 11),
).properties(width=WR, height=HT)

# ---------------- panel (b) ----------------
BX = alt.Scale(domain=[2000, 8000], nice=False, zero=False)
BY = alt.Scale(domain=[0, 3000], nice=False, zero=False)
BXA, BYA = make_axis(B_XTICKS, "d", 6), make_axis(B_YTICKS, "d")
dfb = err_df(B_COOL, B_K, B_GF_HOT, B_GF_COOL)
bounds = alt.Chart(pd.DataFrame({"t": B_CLASS_BOUNDS})).mark_rule(
    color="#f05454", strokeDash=[7, 4], strokeWidth=1).encode(x=alt.X("t:Q", scale=BX, axis=BXA))
letters = alt.Chart(pd.DataFrame({"t": B_CLASS_POS, "s": B_CLASS_NAMES})).mark_text(
    font=FONT, fontSize=11, color="#ff3030", baseline="top").encode(
    x=alt.X("t:Q", scale=BX, axis=BXA), y=alt.value(1.5), text="s:N")
panel_b = alt.layer(
    bounds,
    *scatter_with_errors(dfb, BX, BY, BXA, BYA),
    solar(B_SOLAR, BX, BY, BXA, BYA),
    letters,
    *tick_layers(BX, BY, BXA, BYA, B_XTICKS, B_XMINOR, B_YTICKS, B_YMINOR, WL, HB),
    txt("(b) Planetary Equilibrium Temperature vs. Stellar Type", WL / 2, -4, 13.5),
    txt("Equilibrium Temperature [K]", -31.5, HB / 2, 12, angle=270, baseline="middle"),
    txt("Stellar Effective Temperature [K]", WL / 2, HB + 27, 11),
).properties(width=WL, height=HB)

# ---------------- panel (d) ----------------
DX = alt.Scale(type="log", domain=[0.001, 50], nice=False)
DY = alt.Scale(type="log", domain=[0.01, 10], nice=False)
DXA, DYA = make_axis(A_XTICKS, ".3f", 6), make_axis(D_YTICKS, ".2f")
dfd = pd.DataFrame(D_SMALL + D_MID + D_HOTJUP + D_OUTER, columns=["x", "y"])
pts_d = alt.Chart(dfd).mark_circle(size=11, color="black", opacity=1).encode(
    x=alt.X("x:Q", scale=DX, axis=DXA), y=alt.Y("y:Q", scale=DY, axis=DYA))
panel_d = alt.layer(
    pts_d,
    solar(D_SOLAR, DX, DY, DXA, DYA),
    *tick_layers(DX, DY, DXA, DYA, A_XTICKS, A_XMINOR, D_YTICKS, D_YMINOR, WR, HB),
    txt("(d) Planetary Orbit vs. Planetary Mass", WR / 2, -4, 13.5),
    txt("Semi-Major Axis [AU]", -33.5, HB / 2, 12, angle=270, baseline="middle"),
    *mass_title(WR, HB, 27),
).properties(width=WR, height=HB)

chart = alt.concat(
    panel_a, panel_c, panel_b, panel_d,
    columns=2, spacing={"row": 46, "column": 54}, bounds="flush",
).configure_view(stroke="black", strokeWidth=1.2).properties(padding=0)

chart.save("out.html", embed_options={"renderer": "svg", "actions": False})
